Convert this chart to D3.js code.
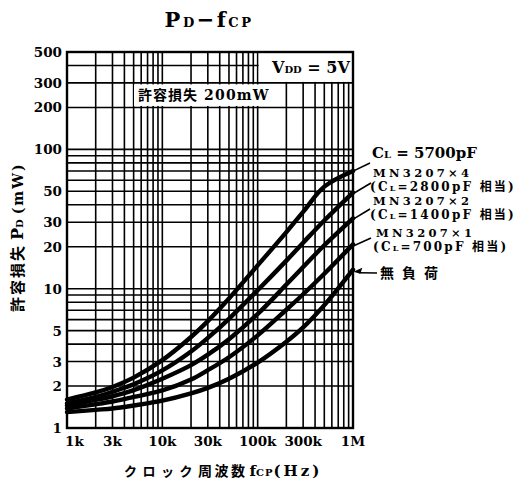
<!DOCTYPE html>
<html>
<head>
<meta charset="utf-8">
<script src="https://cdn.jsdelivr.net/npm/d3@7/dist/d3.min.js"></script>
<style>
  html, body { margin: 0; padding: 0; background: #fff; }
  text { fill: #000; }
</style>
</head>
<body>
<svg id="chart" width="522" height="480"></svg>
<script>
// PD - fCP chart

// frequencies (Hz) the curves were read at
const freqs = [1e3, 2e3, 3e3, 5e3, 1e4, 2e4, 3e4, 5e4, 1e5, 2e5, 3e5, 5e5, 1e6];

// power dissipation (mW) for each load
const pd5700 = [1.6, 1.8, 1.97, 2.3, 3.07, 4.5, 5.85, 8.5, 14.7, 25.5, 35.6, 54, 70];
const pd2800 = [1.5, 1.67, 1.82, 2.06, 2.59, 3.54, 4.43, 6.08, 9.75, 15.9, 21.4, 30.9, 49];
const pd1400 = [1.45, 1.59, 1.69, 1.87, 2.26, 2.83, 3.36, 4.34, 6.58, 10.7, 14.3, 20.5, 32];
const pd700 = [1.38, 1.48, 1.55, 1.67, 1.86, 2.23, 2.6, 3.22, 4.62, 7.06, 9.12, 12.8, 20.8];
const pdNoLoad = [1.3, 1.35, 1.38, 1.45, 1.57, 1.77, 1.94, 2.26, 2.95, 4.16, 5.27, 7.62, 13.7];

const seriesList = [pd5700, pd2800, pd1400, pd700, pdNoLoad];

// tick labels
const xTicks = [1e3, 3e3, 1e4, 3e4, 1e5, 3e5, 1e6];
const xTickLabels = ['1k', '3k', '10k', '30k', '100k', '300k', '1M'];
const yTicks = [500, 300, 200, 100, 50, 30, 20, 10, 5, 3, 2, 1];

const svg = d3.select('#chart');
const pL = 67, pR = 353, pT = 52, pB = 428;

const x = d3.scaleLog().domain([1e3, 1e6]).range([pL, pR]);
const y = d3.scaleLog().domain([1, 500]).range([pB, pT]);

const serif = '"DejaVu Serif", "Liberation Serif", serif';
const cjk = '"Noto Sans CJK JP", sans-serif';

// grid lines: every 1..9 of each decade
const xGrid = [];
for (let d = 1e3; d < 1e6; d *= 10) for (let k = 1; k < 10; k++) xGrid.push(d * k);
const yGrid = [];
for (let d = 1; d <= 100; d *= 10) for (let k = 1; k < 10; k++) if (d * k <= 500) yGrid.push(d * k);

const grid = svg.append('g').attr('stroke', '#000').attr('stroke-width', 1.6);
grid.selectAll('line.v').data(xGrid).enter().append('line')
  .attr('x1', d => x(d)).attr('x2', d => x(d))
  .attr('y1', pT).attr('y2', pB);
grid.selectAll('line.h').data(yGrid).enter().append('line')
  .attr('y1', d => y(d)).attr('y2', d => y(d))
  .attr('x1', pL).attr('x2', pR);

// white boxes that cut the grid
svg.append('rect')
  .attr('x', x(1e5) + 1).attr('y', pT + 1)
  .attr('width', pR - x(1e5) - 2).attr('height', y(300) - pT - 2)
  .attr('fill', '#fff');
svg.append('rect')
  .attr('x', 134).attr('y', y(300) + 1.5)
  .attr('width', 140).attr('height', y(200) - y(300) - 3)
  .attr('fill', '#fff');

// frame
svg.append('rect')
  .attr('x', pL).attr('y', pT)
  .attr('width', pR - pL).attr('height', pB - pT)
  .attr('fill', 'none').attr('stroke', '#000').attr('stroke-width', 2.4);

// box texts
const vdd = svg.append('text')
  .attr('x', 272).attr('y', 73)
  .attr('font-family', serif).attr('font-weight', 'bold').attr('font-size', 16);
vdd.append('tspan').text('V');
vdd.append('tspan').attr('font-size', 10).text('DD');
vdd.append('tspan').text(' = 5V');

const allow = svg.append('text')
  .attr('x', 138).attr('y', 100)
  .attr('font-weight', 'bold');
allow.append('tspan').attr('font-family', cjk).attr('font-size', 14)
  .attr('letter-spacing', 1).text('許容損失');
allow.append('tspan').attr('font-family', serif).attr('font-size', 14)
  .attr('letter-spacing', 1.2).attr('dx', 6).text('200mW');

// curves
const line = d3.line()
  .x((d, i) => x(freqs[i]))
  .y(d => y(d))
  .curve(d3.curveCatmullRom.alpha(0.5));

svg.append('g').selectAll('path').data(seriesList).enter().append('path')
  .attr('d', d => line(d))
  .attr('fill', 'none')
  .attr('stroke', '#000')
  .attr('stroke-width', 4.4)
  .attr('stroke-linecap', 'round');

// tick labels
svg.append('g').selectAll('text').data(yTicks).enter().append('text')
  .attr('x', 62).attr('y', d => y(d) + 5)
  .attr('text-anchor', 'end')
  .attr('font-family', serif).attr('font-weight', 'bold').attr('font-size', 13.5)
  .text(d => d);

svg.append('g').selectAll('text').data(xTicks).enter().append('text')
  .attr('x', (d, i) => i === 0 ? pL - 2 : x(d))
  .attr('y', 446)
  .attr('text-anchor', (d, i) => i === 0 ? 'start' : 'middle')
  .attr('font-family', serif).attr('font-weight', 'bold').attr('font-size', 13.5)
  .text((d, i) => xTickLabels[i]);

// title
const title = svg.append('text')
  .attr('x', 209).attr('y', 27)
  .attr('text-anchor', 'middle')
  .attr('font-family', serif).attr('font-weight', 'bold').attr('font-size', 21)
  .attr('letter-spacing', 2.5);
title.append('tspan').text('P');
title.append('tspan').attr('font-size', 13).text('D');
title.append('tspan').text('−f');
title.append('tspan').attr('font-size', 13).text('CP');

// axis titles
const yt = svg.append('text')
  .attr('transform', 'translate(23,312) rotate(-90)')
  .attr('font-weight', 'bold');
yt.append('tspan').attr('font-family', cjk).attr('font-size', 15)
  .attr('letter-spacing', 2).text('許容損失');
yt.append('tspan').attr('font-family', serif).attr('font-size', 16).attr('dx', 4).text('P');
yt.append('tspan').attr('font-family', serif).attr('font-size', 10).text('D');
yt.append('tspan').attr('font-family', serif).attr('font-size', 14)
  .attr('dx', 5).attr('letter-spacing', 2).text('(mW)');

const xt = svg.append('text')
  .attr('x', 124).attr('y', 476)
  .attr('font-weight', 'bold');
xt.append('tspan').attr('font-family', cjk).attr('font-size', 13)
  .attr('letter-spacing', 5.5).text('クロック');
xt.append('tspan').attr('font-family', cjk).attr('font-size', 14)
  .attr('letter-spacing', 2.5).text('周波数');
xt.append('tspan').attr('font-family', serif).attr('font-size', 15).attr('dx', 2).text('f');
xt.append('tspan').attr('font-family', serif).attr('font-size', 10).attr('letter-spacing', 1).text('CP');
xt.append('tspan').attr('font-family', serif).attr('font-size', 15)
  .attr('letter-spacing', 3).text('(Hz)');

// curve labels
const lbl = svg.append('g').attr('font-weight', 'bold');

const cl = lbl.append('text').attr('x', 372).attr('y', 158)
  .attr('font-family', serif).attr('font-size', 15);
cl.append('tspan').text('C');
cl.append('tspan').attr('font-size', 10).text('L');
cl.append('tspan').text(' = 5700pF');

const mnLabels = [
  {name: 'MN3207×4', cap: '2800pF', y: 177, x: 373},
  {name: 'MN3207×2', cap: '1400pF', y: 205, x: 373},
  {name: 'MN3207×1', cap: '700pF', y: 237, x: 376}
];
mnLabels.forEach(m => {
  lbl.append('text').attr('x', m.x).attr('y', m.y)
    .attr('font-family', serif).attr('font-size', 11.5)
    .attr('letter-spacing', 3.3).text(m.name);
  const t = lbl.append('text').attr('x', m.x - 3).attr('y', m.y + 13.5)
    .attr('font-family', serif).attr('font-size', 12).attr('letter-spacing', 2.2);
  t.append('tspan').text('(C');
  t.append('tspan').attr('font-size', 8).text('L');
  t.append('tspan').text('=' + m.cap + ' ');
  t.append('tspan').attr('font-family', cjk).attr('font-size', 12).text('相当');
  t.append('tspan').text(')');
});

lbl.append('text').attr('x', 380).attr('y', 278)
  .attr('font-family', cjk).attr('font-size', 14)
  .attr('letter-spacing', 8).text('無負荷');

// leader lines to curve ends
const leaderStarts = [[370, 163], [371, 183], [370, 209], [371, 238]];
const leaderFreq = 9.3e5;
function valueAt(series, f) {
  const i = d3.bisectLeft(freqs, f);
  const f0 = freqs[i - 1], f1 = freqs[i];
  const t = Math.log(f / f0) / Math.log(f1 / f0);
  return Math.exp(Math.log(series[i - 1]) * (1 - t) + Math.log(series[i]) * t);
}
svg.append('g').selectAll('line').data(leaderStarts).enter().append('line')
  .attr('x1', d => d[0]).attr('y1', d => d[1])
  .attr('x2', x(leaderFreq))
  .attr('y2', (d, i) => y(valueAt(seriesList[i], leaderFreq)))
  .attr('stroke', '#000').attr('stroke-width', 1.6);

// arrow to no-load curve
const ay = y(valueAt(pdNoLoad, 9.6e5));
const ax = x(9.6e5) + 2;
svg.append('line').attr('x1', 377).attr('y1', 273).attr('x2', ax + 6).attr('y2', ay + 1)
  .attr('stroke', '#000').attr('stroke-width', 1.6);
svg.append('path')
  .attr('d', `M${ax},${ay} l9,-4 l-2,6 z`)
  .attr('fill', '#000');
</script>
</body>
</html>
